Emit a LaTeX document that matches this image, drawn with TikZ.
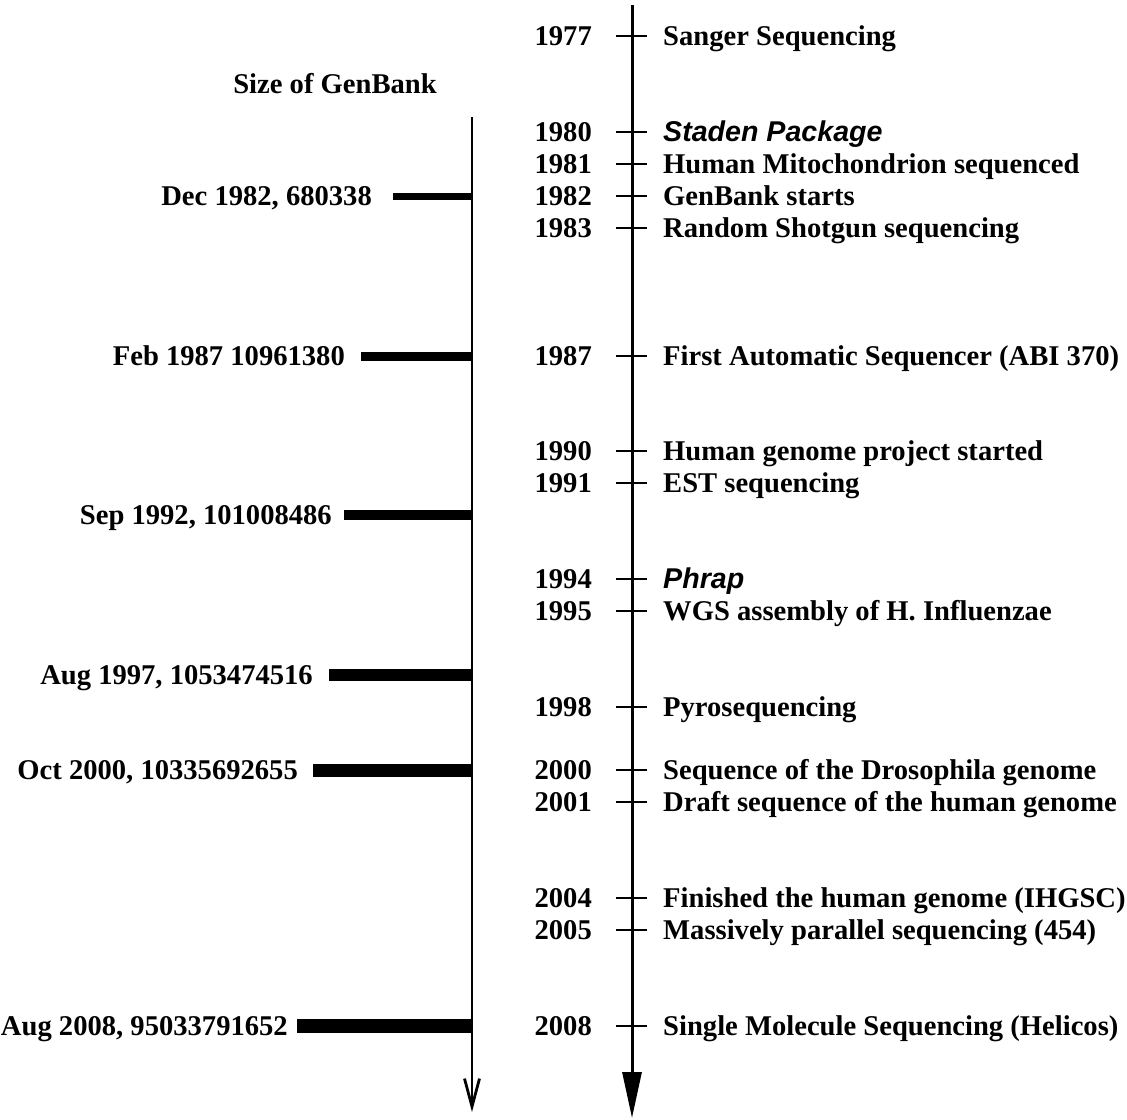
\documentclass[tikz,border=0pt]{standalone}
\usepackage{fontspec}
\setmainfont{Liberation Serif}
\newfontfamily\italsans{Liberation Sans}
\usetikzlibrary{positioning, arrows.meta}
\tikzset{
	every node/.style={inner sep=0pt, text height=19pt, text depth=0pt,
		font=\fontsize{28.6}{30}\selectfont\bfseries},
	year/.style={left=40pt of #1},
	evt/.style={right=31pt of #1},
	yeartick/.style={line width=2.8pt},
	bar/.style={line width=#1}
}

\begin{document}
\begin{tikzpicture}
	[ x=1pt, y=-1pt ]
	\useasboundingbox (0,0) rectangle (1127,1119);
	% the two time axes
	\coordinate (ltop) at (472,117);
	\coordinate (lbot) at (472,1112);
	\coordinate (rtop) at (632,5);
	\coordinate (rbot) at (632,1118);
	\draw[line width=2.8pt, -{Straight Barb[length=28pt, width=15pt]}] (ltop) -- (lbot);
	\draw[line width=3pt, -{Triangle[length=46pt, width=19pt]}] (rtop) -- (rbot);
	\node (title) at (335,84) {Size of GenBank};

	% events
	\coordinate (r1977) at (632,36);
	\coordinate (r1980) at (632,132);
	\coordinate (r1981) at (632,164);
	\coordinate (r1982) at (632,196);
	\coordinate (r1983) at (632,228);
	\coordinate (r1987) at (632,356);
	\coordinate (r1990) at (632,451);
	\coordinate (r1991) at (632,483);
	\coordinate (r1994) at (632,579);
	\coordinate (r1995) at (632,611);
	\coordinate (r1998) at (632,707);
	\coordinate (r2000) at (632,770);
	\coordinate (r2001) at (632,802);
	\coordinate (r2004) at (632,898);
	\coordinate (r2005) at (632,930);
	\coordinate (r2008) at (632,1026);

	\node[year=r1977] (y1977) {1977}; \node[evt=r1977] (e1977) {Sanger Sequencing};
	\node[year=r1980] (y1980) {1980}; \node[evt=r1980] (e1980) {\italsans\itshape Staden Package};
	\node[year=r1981] (y1981) {1981}; \node[evt=r1981] (e1981) {Human Mitochondrion sequenced};
	\node[year=r1982] (y1982) {1982}; \node[evt=r1982] (e1982) {GenBank starts};
	\node[year=r1983] (y1983) {1983}; \node[evt=r1983] (e1983) {Random Shotgun sequencing};
	\node[year=r1987] (y1987) {1987}; \node[evt=r1987] (e1987) {First Automatic Sequencer (ABI 370)};
	\node[year=r1990] (y1990) {1990}; \node[evt=r1990] (e1990) {Human genome project started};
	\node[year=r1991] (y1991) {1991}; \node[evt=r1991] (e1991) {EST sequencing};
	\node[year=r1994] (y1994) {1994}; \node[evt=r1994] (e1994) {\italsans\itshape Phrap};
	\node[year=r1995] (y1995) {1995}; \node[evt=r1995] (e1995) {WGS assembly of H. Influenzae};
	\node[year=r1998] (y1998) {1998}; \node[evt=r1998] (e1998) {Pyrosequencing};
	\node[year=r2000] (y2000) {2000}; \node[evt=r2000] (e2000) {Sequence of the Drosophila genome};
	\node[year=r2001] (y2001) {2001}; \node[evt=r2001] (e2001) {Draft sequence of the human genome};
	\node[year=r2004] (y2004) {2004}; \node[evt=r2004] (e2004) {Finished the human genome (IHGSC)};
	\node[year=r2005] (y2005) {2005}; \node[evt=r2005] (e2005) {Massively parallel sequencing (454)};
	\node[year=r2008] (y2008) {2008}; \node[evt=r2008] (e2008) {Single Molecule Sequencing (Helicos)};

	\draw[yeartick]
	([xshift=-16pt]r1977) -- ([xshift=15pt]r1977)
	([xshift=-16pt]r1980) -- ([xshift=15pt]r1980)
	([xshift=-16pt]r1981) -- ([xshift=15pt]r1981)
	([xshift=-16pt]r1982) -- ([xshift=15pt]r1982)
	([xshift=-16pt]r1983) -- ([xshift=15pt]r1983)
	([xshift=-16pt]r1987) -- ([xshift=15pt]r1987)
	([xshift=-16pt]r1990) -- ([xshift=15pt]r1990)
	([xshift=-16pt]r1991) -- ([xshift=15pt]r1991)
	([xshift=-16pt]r1994) -- ([xshift=15pt]r1994)
	([xshift=-16pt]r1995) -- ([xshift=15pt]r1995)
	([xshift=-16pt]r1998) -- ([xshift=15pt]r1998)
	([xshift=-16pt]r2000) -- ([xshift=15pt]r2000)
	([xshift=-16pt]r2001) -- ([xshift=15pt]r2001)
	([xshift=-16pt]r2004) -- ([xshift=15pt]r2004)
	([xshift=-16pt]r2005) -- ([xshift=15pt]r2005)
	([xshift=-16pt]r2008) -- ([xshift=15pt]r2008)
	;

	% size of GenBank
	\coordinate (l1982) at (472,196);
	\coordinate (l1987) at (472,356);
	\coordinate (l1992) at (472,515);
	\coordinate (l1997) at (472,675);
	\coordinate (l2000) at (472,770);
	\coordinate (l2008) at (472,1026);
	\draw[bar=7pt] (l1982) -- ++(-79,0) coordinate (b1982);
	\draw[bar=9pt] (l1987) -- ++(-111,0) coordinate (b1987);
	\draw[bar=10pt] (l1992) -- ++(-128,0) coordinate (b1992);
	\draw[bar=12pt] (l1997) -- ++(-143,0) coordinate (b1997);
	\draw[bar=13pt] (l2000) -- ++(-159,0) coordinate (b2000);
	\draw[bar=14pt] (l2008) -- ++(-175,0) coordinate (b2008);
	\node[left=21pt of b1982] (g1982) {Dec 1982, 680338};
	\node[left=16pt of b1987] (g1987) {Feb 1987 10961380};
	\node[left=12pt of b1992] (g1992) {Sep 1992, 101008486};
	\node[left=16pt of b1997] (g1997) {Aug 1997, 1053474516};
	\node[left=15pt of b2000] (g2000) {Oct 2000, 10335692655};
	\node[left=9pt of b2008] (g2008) {Aug 2008, 95033791652};
\end{tikzpicture}
\end{document}
